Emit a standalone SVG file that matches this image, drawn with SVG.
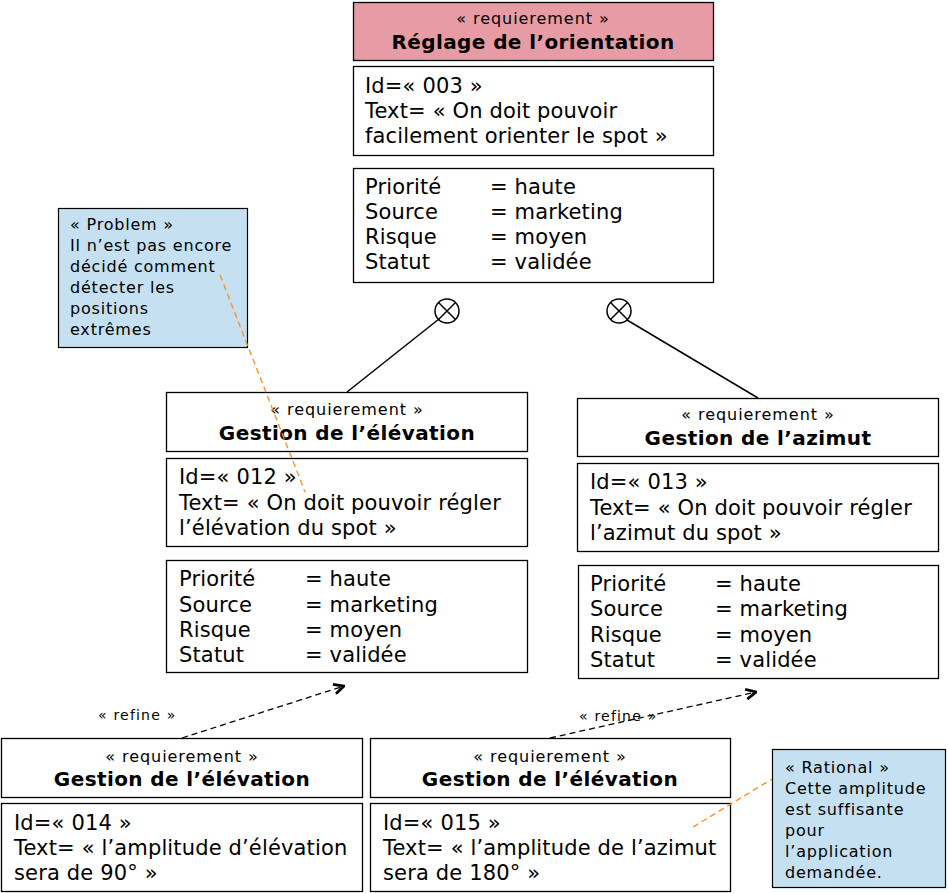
<svg xmlns="http://www.w3.org/2000/svg" width="948" height="893" viewBox="0 0 948 893">
<style>
text{font-family:"DejaVu Sans","Verdana",sans-serif;fill:#000}
.box{fill:#fff;stroke:#000;stroke-width:1.3}
.hdr{fill:#e79ca5;stroke:#000;stroke-width:1.3}
.note{fill:#c5e1f1;stroke:#000;stroke-width:1.2}
.st{font-size:16px;letter-spacing:0.95px;text-anchor:middle}
.ti{font-size:20px;font-weight:bold;letter-spacing:0.4px;text-anchor:middle}
.bd{font-size:21px;letter-spacing:0.15px}
.nt{font-size:16px;letter-spacing:0.8px}
.rf{font-size:14px;letter-spacing:1.2px}
.sol{stroke:#000;stroke-width:1.5;fill:none}
.dash{stroke:#000;stroke-width:1.3;stroke-dasharray:6 4;fill:none}
.odash{stroke:#ff8c1a;stroke-width:1.3;stroke-dasharray:6 4;fill:none}
</style>
<defs>
<marker id="open" viewBox="0 0 12 12" refX="11" refY="6" markerWidth="12" markerHeight="12" markerUnits="userSpaceOnUse" orient="auto">
<path d="M1,1 L11,6 L1,11" fill="none" stroke="#000" stroke-width="2.8"/>
</marker>
</defs>

<g id="req003">
<rect x="353.5" y="2.5" width="360" height="58" class="hdr"/>
<text x="533" y="24" class="st">« requierement »</text>
<text x="533" y="49" class="ti">Réglage de l’orientation</text>
<rect x="353.5" y="66.5" width="360" height="89" class="box"/>
<text x="365" y="93" class="bd">Id=« 003 »</text>
<text x="365" y="118" class="bd">Text= « On doit pouvoir</text>
<text x="365" y="143" class="bd">facilement orienter le spot »</text>
<rect x="353.5" y="168.5" width="360" height="114" class="box"/>
<text x="365" y="194" class="bd">Priorité</text><text x="490" y="194" class="bd">= haute</text>
<text x="365" y="219" class="bd">Source</text><text x="490" y="219" class="bd">= marketing</text>
<text x="365" y="244" class="bd">Risque</text><text x="490" y="244" class="bd">= moyen</text>
<text x="365" y="269" class="bd">Statut</text><text x="490" y="269" class="bd">= validée</text>
</g>

<g id="req012">
<rect x="166.5" y="392.5" width="361" height="59" class="box"/>
<text x="347" y="415" class="st">« requierement »</text>
<text x="347" y="440" class="ti">Gestion de l’élévation</text>
<rect x="166.5" y="458.5" width="361" height="88" class="box"/>
<text x="179" y="484" class="bd">Id=« 012 »</text>
<text x="179" y="510" class="bd">Text= « On doit pouvoir régler</text>
<text x="179" y="535" class="bd">l’élévation du spot »</text>
<rect x="166.5" y="560.5" width="361" height="112" class="box"/>
<text x="179" y="586" class="bd">Priorité</text><text x="305" y="586" class="bd">= haute</text>
<text x="179" y="612" class="bd">Source</text><text x="305" y="612" class="bd">= marketing</text>
<text x="179" y="637" class="bd">Risque</text><text x="305" y="637" class="bd">= moyen</text>
<text x="179" y="662" class="bd">Statut</text><text x="305" y="662" class="bd">= validée</text>
</g>

<g id="req013">
<rect x="577.5" y="398.5" width="361" height="58" class="box"/>
<text x="758" y="420" class="st">« requierement »</text>
<text x="758" y="445" class="ti">Gestion de l’azimut</text>
<rect x="577.5" y="463.5" width="361" height="88" class="box"/>
<text x="590" y="489" class="bd">Id=« 013 »</text>
<text x="590" y="515" class="bd">Text= « On doit pouvoir régler</text>
<text x="590" y="540" class="bd">l’azimut du spot »</text>
<rect x="578.5" y="565.5" width="360" height="113" class="box"/>
<text x="590" y="591" class="bd">Priorité</text><text x="715" y="591" class="bd">= haute</text>
<text x="590" y="616" class="bd">Source</text><text x="715" y="616" class="bd">= marketing</text>
<text x="590" y="642" class="bd">Risque</text><text x="715" y="642" class="bd">= moyen</text>
<text x="590" y="667" class="bd">Statut</text><text x="715" y="667" class="bd">= validée</text>
</g>

<g id="req014">
<rect x="1.5" y="738.5" width="361" height="59" class="box"/>
<text x="182" y="762" class="st">« requierement »</text>
<text x="182" y="786" class="ti">Gestion de l’élévation</text>
<rect x="1.5" y="803.5" width="361" height="88" class="box"/>
<text x="14" y="830" class="bd">Id=« 014 »</text>
<text x="14" y="855" class="bd">Text= « l’amplitude d’élévation</text>
<text x="14" y="880" class="bd">sera de 90° »</text>
</g>

<g id="req015">
<rect x="370.5" y="738.5" width="360" height="59" class="box"/>
<text x="550" y="762" class="st">« requierement »</text>
<text x="550" y="786" class="ti">Gestion de l’élévation</text>
<rect x="370.5" y="803.5" width="360" height="88" class="box"/>
<text x="383" y="830" class="bd">Id=« 015 »</text>
<text x="383" y="855" class="bd">Text= « l’amplitude de l’azimut</text>
<text x="383" y="880" class="bd">sera de 180° »</text>
</g>

<g id="problem">
<rect x="58.5" y="208.5" width="189" height="139" class="note"/>
<text x="70" y="230" class="nt">« Problem »</text>
<text x="70" y="251" class="nt">Il n’est pas encore</text>
<text x="70" y="272" class="nt">décidé comment</text>
<text x="70" y="293" class="nt">détecter les</text>
<text x="70" y="314" class="nt">positions</text>
<text x="70" y="335" class="nt">extrêmes</text>
</g>

<g id="rational">
<rect x="772.5" y="749.5" width="173" height="138" class="note"/>
<text x="785" y="773" class="nt">« Rational »</text>
<text x="785" y="794" class="nt">Cette amplitude</text>
<text x="785" y="815" class="nt">est suffisante</text>
<text x="785" y="836" class="nt">pour</text>
<text x="785" y="857" class="nt">l’application</text>
<text x="785" y="878" class="nt">demandée.</text>
</g>

<g id="connectors">
<circle cx="447" cy="311" r="12" class="sol"/>
<path d="M438.5,302.5 L455.5,319.5 M455.5,302.5 L438.5,319.5" class="sol"/>
<circle cx="619" cy="311" r="12" class="sol"/>
<path d="M610.5,302.5 L627.5,319.5 M627.5,302.5 L610.5,319.5" class="sol"/>
<line x1="439" y1="319" x2="347" y2="392" class="sol"/>
<line x1="627" y1="320" x2="758" y2="398" class="sol"/>
<line x1="182" y1="738" x2="344" y2="686" class="dash" marker-end="url(#open)"/>
<line x1="550" y1="738" x2="756" y2="692" class="dash" marker-end="url(#open)"/>
<line x1="220" y1="275" x2="305" y2="492" class="odash"/>
<line x1="693" y1="827" x2="772" y2="779" class="odash"/>
<text x="98" y="720" class="rf">« refine »</text>
<text x="579" y="721" class="rf">« refine »</text>
</g>
</svg>
